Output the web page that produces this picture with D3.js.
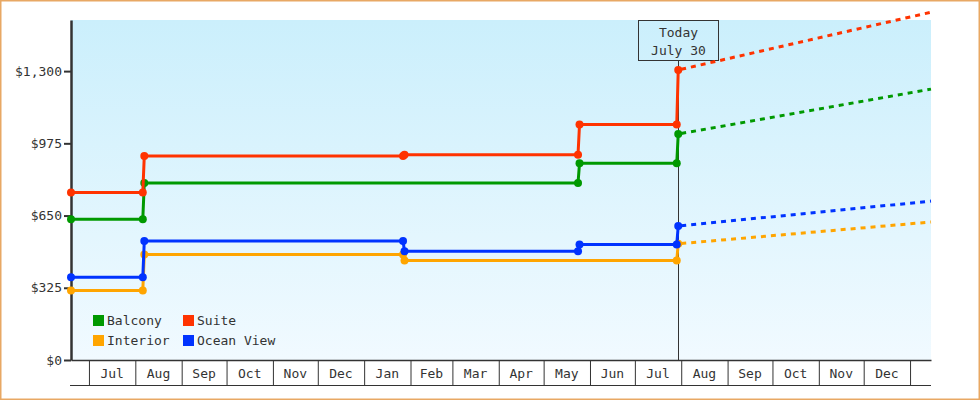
<!DOCTYPE html>
<html>
<head>
<meta charset="utf-8">
<script src="https://cdn.jsdelivr.net/npm/d3@7"></script>
<style>
  html, body { margin: 0; padding: 0; background: #fff; }
  svg { display: block; }
  text { font-family: "DejaVu Sans Mono", "Liberation Mono", monospace; font-size: 13px; fill: #333; }
</style>
</head>
<body>
<svg id="chart" width="980" height="400"></svg>
<script>
// ---- data ----
const seriesNames = ["Interior", "Ocean View", "Balcony", "Suite"];
const seriesColors = ["#ffa500", "#0033ff", "#009900", "#ff3300"];
const legendOrder = ["Balcony", "Suite", "Interior", "Ocean View"];

// observed price history (date, price)
const interiorDates = ["2022-06-19", "2022-08-06", "2022-08-07", "2023-01-27", "2023-01-28", "2023-07-29", "2023-07-30"];
const interiorValues = [313, 313, 475, 475, 448, 448, 523];

const oceanDates = ["2022-06-19", "2022-08-06", "2022-08-07", "2023-01-27", "2023-01-28", "2023-05-24", "2023-05-25", "2023-07-29", "2023-07-30"];
const oceanValues = [372, 372, 535, 535, 489, 489, 520, 520, 603];

const balconyDates = ["2022-06-19", "2022-08-06", "2022-08-07", "2023-05-24", "2023-05-25", "2023-07-29", "2023-07-30"];
const balconyValues = [633, 633, 796, 796, 885, 885, 1017];

const suiteDates = ["2022-06-19", "2022-08-06", "2022-08-07", "2023-01-27", "2023-01-28", "2023-05-24", "2023-05-25", "2023-07-29", "2023-07-30"];
const suiteValues = [754, 754, 918, 918, 924, 924, 1060, 1060, 1305];

// projected prices (from today to end of range)
const projectionDates = ["2023-07-30", "2024-01-15"];
const interiorProjection = [523, 621];
const oceanProjection = [603, 715];
const balconyProjection = [1017, 1219];
const suiteProjection = [1305, 1565];

const yTickValues = [0, 325, 650, 975, 1300];
const domainStart = "2022-06-19";
const domainEnd = "2024-01-15";
const todayDate = "2023-07-30";
const todayLabel = ["Today", "July 30"];

// ---- build ----
const parse = d3.timeParse("%Y-%m-%d");
const toPoints = (ds, vs) => ds.map((d, i) => ({ date: parse(d), value: vs[i] }));
const history = [
  toPoints(interiorDates, interiorValues),
  toPoints(oceanDates, oceanValues),
  toPoints(balconyDates, balconyValues),
  toPoints(suiteDates, suiteValues)
];
const projections = [
  toPoints(projectionDates, interiorProjection),
  toPoints(projectionDates, oceanProjection),
  toPoints(projectionDates, balconyProjection),
  toPoints(projectionDates, suiteProjection)
];

const svg = d3.select("#chart");
const pLeft = 71, pRight = 931, pTop = 20, pBottom = 360;

const x = d3.scaleTime().domain([parse(domainStart), parse(domainEnd)]).range([pLeft, pRight]);
const y = d3.scaleLinear().domain([0, 1530]).range([pBottom, pTop]);

// outer border
svg.append("rect").attr("x", 0.75).attr("y", 0.75).attr("width", 978.5).attr("height", 398.5)
  .attr("fill", "#fff").attr("stroke", "#e8a864").attr("stroke-width", 1.5);

// gradient background
const defs = svg.append("defs");
const grad = defs.append("linearGradient").attr("id", "bg").attr("x1", 0).attr("y1", 0).attr("x2", 0).attr("y2", 1);
grad.append("stop").attr("offset", "0%").attr("stop-color", "#cbeffc");
grad.append("stop").attr("offset", "100%").attr("stop-color", "#f1faff");
svg.append("rect").attr("x", pLeft).attr("y", pTop).attr("width", pRight - pLeft).attr("height", pBottom - pTop)
  .attr("fill", "url(#bg)");

// today marker line + box
const tx = Math.round(x(parse(todayDate))) + 0.5;
svg.append("line").attr("x1", tx).attr("x2", tx).attr("y1", 60).attr("y2", pBottom)
  .attr("stroke", "#333").attr("stroke-width", 1);
svg.append("rect").attr("x", tx - 40).attr("y", 20.5).attr("width", 80).attr("height", 40)
  .attr("fill", "none").attr("stroke", "#333").attr("stroke-width", 1);
svg.append("text").attr("x", tx).attr("y", 37).attr("text-anchor", "middle").text(todayLabel[0]);
svg.append("text").attr("x", tx).attr("y", 55).attr("text-anchor", "middle").text(todayLabel[1]);

// x axis band: month separators
const monthStarts = d3.timeMonth.range(d3.timeMonth.ceil(x.domain()[0]), x.domain()[1]);
const xAxis = d3.axisBottom(x).tickValues(monthStarts).tickSize(25).tickFormat("").tickSizeOuter(0);
const gx = svg.append("g").attr("transform", `translate(0,${pBottom})`).call(xAxis);
gx.select(".domain").attr("stroke", "#333").attr("stroke-width", 1.5);
gx.selectAll(".tick line").attr("stroke", "#333").attr("stroke-width", 1);
svg.append("line").attr("x1", pLeft - 1).attr("x2", pRight).attr("y1", 385.5).attr("y2", 385.5)
  .attr("stroke", "#333").attr("stroke-width", 1.2);
// month labels centered in full months
const fmt = d3.timeFormat("%b");
monthStarts.forEach(m => {
  const next = d3.timeMonth.offset(m, 1);
  if (next <= x.domain()[1]) {
    svg.append("text").attr("x", (x(m) + x(next)) / 2).attr("y", 378)
      .attr("text-anchor", "middle").text(fmt(m));
  }
});

// y axis
const yAxis = d3.axisLeft(y).tickValues(yTickValues).tickFormat(d3.format("$,")).tickSize(7).tickSizeOuter(0).tickPadding(2);
const gy = svg.append("g").attr("transform", `translate(${pLeft},0)`).call(yAxis);
gy.select(".domain").attr("stroke", "#333").attr("stroke-width", 2.5);
gy.selectAll(".tick line").attr("stroke", "#333").attr("stroke-width", 2);
gy.selectAll(".tick text").attr("font-family", '"DejaVu Sans Mono", monospace').attr("font-size", 13).attr("fill", "#333");

// series
const line = d3.line().x(d => x(d.date)).y(d => y(d.value));
history.forEach((pts, i) => {
  const g = svg.append("g");
  g.append("path").datum(projections[i]).attr("d", line).attr("fill", "none")
    .attr("stroke", seriesColors[i]).attr("stroke-width", 3).attr("stroke-dasharray", "5,5").attr("stroke-dashoffset", -3);
  g.append("path").datum(pts).attr("d", line).attr("fill", "none")
    .attr("stroke", seriesColors[i]).attr("stroke-width", 3);
  g.selectAll("circle").data(pts).join("circle")
    .attr("cx", d => x(d.date)).attr("cy", d => y(d.value)).attr("r", 4)
    .attr("fill", seriesColors[i]);
});

// legend
const legendPos = [[93, 315], [183, 315], [93, 335], [183, 335]];
legendOrder.forEach((name, k) => {
  const i = seriesNames.indexOf(name);
  const [lx, ly] = legendPos[k];
  svg.append("rect").attr("x", lx).attr("y", ly).attr("width", 11).attr("height", 11).attr("fill", seriesColors[i]);
  svg.append("text").attr("x", lx + 14).attr("y", ly + 10).text(name);
});
</script>
</body>
</html>
